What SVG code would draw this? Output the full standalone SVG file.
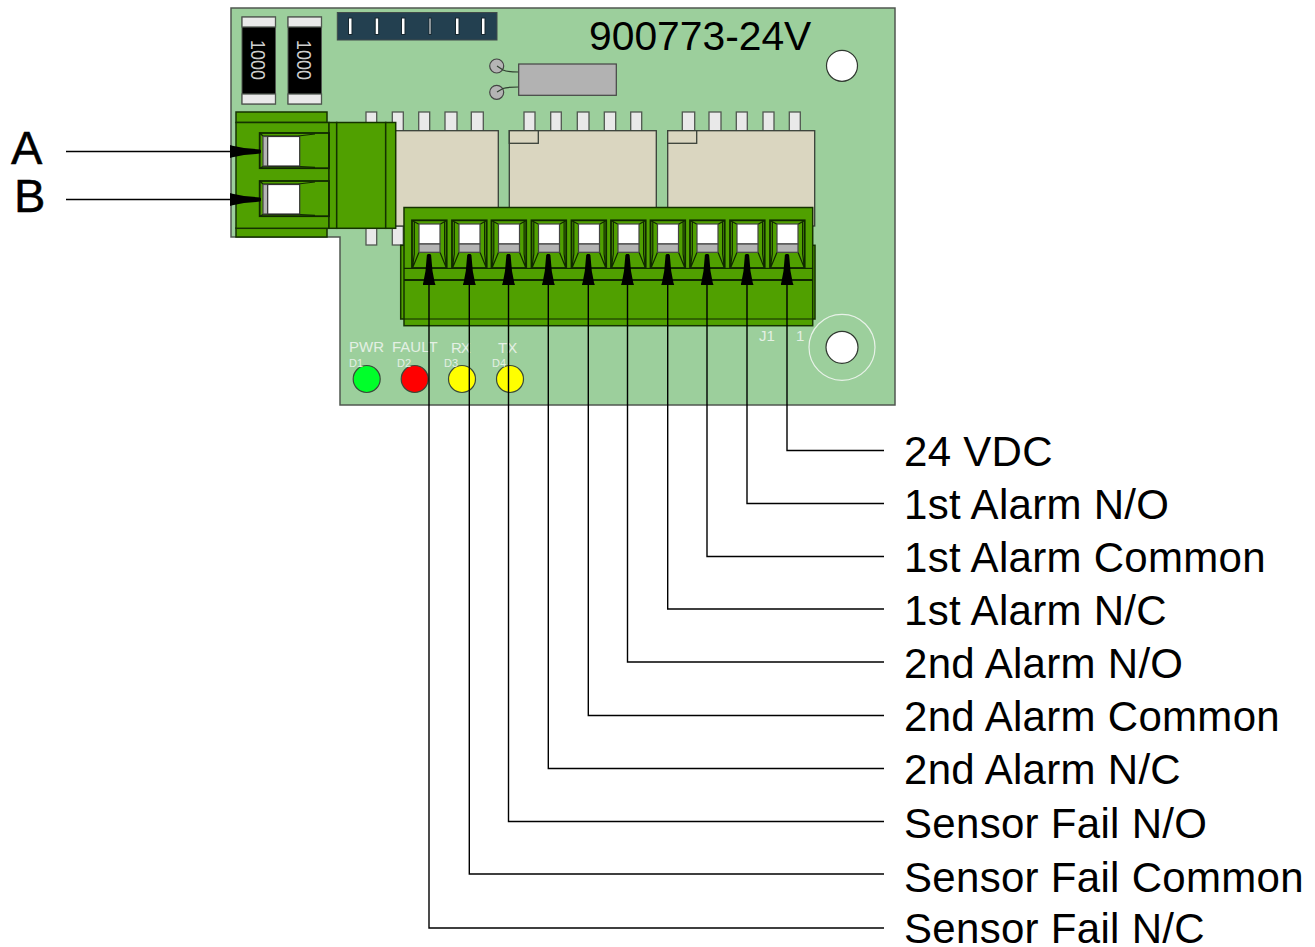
<svg xmlns="http://www.w3.org/2000/svg" width="1315" height="947" viewBox="0 0 1315 947">
<style>
text{font-family:"Liberation Sans",Arial,sans-serif}
.board{fill:#9ccf9c;stroke:#505850;stroke-width:1.5}
.grn{fill:#50a000;stroke:#143200;stroke-width:1.5}
.relay{fill:#dad6c0;stroke:#384038;stroke-width:1.3}
.pin{fill:#e9e9e9;stroke:#505850;stroke-width:1.3}
.gray{fill:#b4b4b4;stroke:#444;stroke-width:1.2}
.hole{fill:#fff;stroke:#303830;stroke-width:1.2}
.thin{fill:none;stroke:#102800;stroke-width:1.2}
.thick{fill:none;stroke:#102800;stroke-width:1.8}
.wire{fill:none;stroke:#000;stroke-width:1.4}
.lbl{font-size:42px;letter-spacing:.3px;fill:#000}
.silk{fill:#e4f0e4;font-size:15px}
.silks{fill:#e4f0e4;font-size:11px}
.rv{fill:#cfcfcf;font-size:18px}
.led{stroke:#3a4a3a;stroke-width:1.2}
.big{font-size:47px;fill:#000;stroke:#000;stroke-width:.5}
</style>
<defs>
<marker id="arrow" markerUnits="userSpaceOnUse" markerWidth="32" markerHeight="14" refX="31" refY="6.5" orient="auto">
<path d="M0,0 L2.5,.8 L14,3 L30,4.4 L31,5.4 V7.6 L30,8.6 L14,10 L2.5,12.2 L0,13Z" fill="#000"/>
</marker>
<g id="term">
<rect x="412" y="220.3" width="34.7" height="47.7" class="thick"/>
<path d="M414.3,221.5 V254 L412.5,267.5 M444.6,221.5 V254 L446.4,267.5 M412.5,220.8 L419,224.3 M446.2,220.8 L440,224.3 M419,252.3 L412.7,267.5 M440,252.3 L446.2,267.5" class="thin"/>
<rect x="419" y="224" width="21" height="20" class="hole" style="stroke:#444"/>
<rect x="419" y="244" width="21" height="8.3" class="gray"/>
</g>
<g id="lterm">
<rect x="259.7" y="0" width="69.3" height="35.2" class="thick"/>
<path d="M262,3 H298 L315,1 M262,33.6 H300 L315,34.4 M259.7,0 L263,3 M259.7,35.2 L263,33.6" class="thin"/>
<rect x="263" y="3.5" width="4.7" height="29.5" class="gray"/>
<rect x="267.7" y="3.5" width="32" height="29.5" class="hole" style="stroke:#333"/>
</g>
</defs>
<rect width="1315" height="947" fill="#fff"/>
<g id="board">
<path class="board" d="M231,8 H895 V405 H340 V237 H231 Z"/>
<text x="589" y="50" font-size="40.8" fill="#000">900773-24V</text>
<circle cx="842" cy="65.8" r="15.5" class="hole"/>
<circle cx="842" cy="347.3" r="33" fill="none" stroke="#e8f2e8" stroke-width="1.2"/>
<circle cx="842" cy="347.3" r="16" class="hole"/>
</g>
<g id="resistor-1">
<rect x="242" y="17" width="33.5" height="87" fill="#000" stroke="#505850"/>
<rect x="242" y="17" width="33.5" height="10" class="pin"/>
<rect x="242" y="94" width="33.5" height="10" class="pin"/>
<text class="rv" transform="translate(251,40) rotate(90) scale(1,1.12)">1000</text>
</g>
<g id="resistor-2">
<rect x="288" y="17" width="33.5" height="87" fill="#000" stroke="#505850"/>
<rect x="288" y="17" width="33.5" height="10" class="pin"/>
<rect x="288" y="94" width="33.5" height="10" class="pin"/>
<text class="rv" transform="translate(297,40) rotate(90) scale(1,1.12)">1000</text>
</g>
<g id="header">
<rect x="337.3" y="12.5" width="159.7" height="27.5" fill="#234050" stroke="#404a4a"/>
<g fill="#fff" stroke="#182830">
<rect x="348.5" y="18" width="3.5" height="16.5"/><rect x="375.2" y="18" width="3.5" height="16.5"/><rect x="401.5" y="18" width="3.5" height="16.5"/><rect x="429" y="18" width="2" height="16.5"/><rect x="455.5" y="18" width="3.5" height="16.5"/><rect x="481.5" y="18" width="3.5" height="16.5"/>
</g>
</g>
<g id="crystal">
<circle cx="496.7" cy="66" r="7" class="gray"/>
<circle cx="496.7" cy="92.3" r="7" class="gray"/>
<path d="M497,66 L503,70 Q507,72 518.7,72 M497,92 L503,88.5 Q507,87 518.7,87" fill="none" stroke="#304030" stroke-width="1.2"/>
<rect x="518.7" y="64" width="97.6" height="31.3" class="gray" style="fill:#b2b2b2"/>
</g>
<g id="relay-1">
<rect x="366" y="112" width="10.7" height="20" class="pin"/><rect x="392.3" y="112" width="11" height="20" class="pin"/><rect x="418.7" y="112" width="11" height="20" class="pin"/><rect x="445" y="112" width="12" height="20" class="pin"/><rect x="471.3" y="112" width="12" height="20" class="pin"/>
<rect x="366" y="226" width="10.7" height="19" class="pin"/><rect x="392.3" y="226" width="11" height="19" class="pin"/>
<rect x="380" y="130.7" width="118.3" height="95.3" class="relay"/>
</g>
<g id="relay-2">
<rect x="524" y="112" width="11" height="20" class="pin"/><rect x="550.7" y="112" width="10.6" height="20" class="pin"/><rect x="577.3" y="112" width="11.7" height="20" class="pin"/><rect x="604.3" y="112" width="11.4" height="20" class="pin"/><rect x="630.7" y="112" width="11" height="20" class="pin"/>
<rect x="509.3" y="130.7" width="147" height="95.3" class="relay"/>
<rect x="509.3" y="130.7" width="29" height="12.6" class="relay"/>
</g>
<g id="relay-3">
<rect x="682.3" y="112" width="12.4" height="20" class="pin"/><rect x="709" y="112" width="12" height="20" class="pin"/><rect x="736.3" y="112" width="11" height="20" class="pin"/><rect x="763" y="112" width="11" height="20" class="pin"/><rect x="789.3" y="112" width="11" height="20" class="pin"/>
<rect x="667.7" y="130.7" width="147" height="95.3" class="relay"/>
<rect x="667.7" y="130.7" width="29" height="12.6" class="relay"/>
</g>
<g id="leds">
<circle cx="366.7" cy="379" r="13.5" fill="#00ff2a" class="led"/>
<circle cx="414.7" cy="379" r="13.5" fill="#ff0000" class="led"/>
<circle cx="462" cy="379" r="13.5" fill="#ffff00" class="led"/>
<circle cx="510" cy="379" r="13.5" fill="#ffff00" class="led"/>
<text class="silk" x="349" y="352">PWR</text>
<text class="silk" x="392" y="352">FAULT</text>
<text class="silk" x="451" y="353" letter-spacing="-1">RX</text>
<text class="silk" x="498" y="353">TX</text>
<text class="silks" x="349" y="367">D1</text>
<text class="silks" x="397" y="367">D2</text>
<text class="silks" x="444" y="367">D3</text>
<text class="silks" x="492" y="367">D4</text>
<text class="silk" x="759" y="341">J1</text>
<text class="silk" x="796" y="341">1</text>
</g>
<g id="connector-left">
<rect x="236" y="112" width="91" height="10.5" class="grn"/>
<rect x="236" y="228" width="91" height="9" class="grn"/>
<rect x="236" y="122.5" width="93" height="105.8" class="grn"/>
<rect x="329" y="122.5" width="7.7" height="105.8" class="grn"/>
<rect x="336.7" y="122.5" width="49" height="105.8" class="grn"/>
<rect x="385.7" y="122.5" width="10" height="105.8" class="grn"/>
<use href="#lterm" y="133"/>
<use href="#lterm" y="181"/>
</g>
<g id="terminal-block">
<rect x="400.7" y="245.3" width="414.3" height="73.7" class="grn"/>
<rect x="404" y="207.5" width="408.7" height="118.2" class="grn"/>
<path d="M404,268.3 H812.7 M404,319 H812.7" class="thin"/>
<path d="M404,280 H812.7" class="thick"/>
<use href="#term"/>
<use href="#term" x="40"/>
<use href="#term" x="79.5"/>
<use href="#term" x="119.5"/>
<use href="#term" x="159.5"/>
<use href="#term" x="199"/>
<use href="#term" x="238.5"/>
<use href="#term" x="278"/>
<use href="#term" x="318"/>
<use href="#term" x="358"/>
</g>
<g id="connectors">
<path class="wire" marker-end="url(#arrow)" d="M66,151.5 H261"/>
<path class="wire" marker-end="url(#arrow)" d="M66,199.5 H261"/>
<path class="wire" marker-end="url(#arrow)" d="M884,450.5 H787 V254"/>
<path class="wire" marker-end="url(#arrow)" d="M884,503.5 H747 V254"/>
<path class="wire" marker-end="url(#arrow)" d="M884,556.5 H707 V254"/>
<path class="wire" marker-end="url(#arrow)" d="M884,609 H667.7 V254"/>
<path class="wire" marker-end="url(#arrow)" d="M884,662 H627.5 V254"/>
<path class="wire" marker-end="url(#arrow)" d="M884,715.5 H588.3 V254"/>
<path class="wire" marker-end="url(#arrow)" d="M884,768.5 H548.3 V254"/>
<path class="wire" marker-end="url(#arrow)" d="M884,821.5 H508.5 V254"/>
<path class="wire" marker-end="url(#arrow)" d="M884,874 H469.3 V254"/>
<path class="wire" marker-end="url(#arrow)" d="M884,928 H429 V254"/>
</g>
<g id="labels">
<text class="big" x="11" y="164">A</text>
<text class="big" x="14" y="212">B</text>
<text class="lbl" x="904" y="466">24 VDC</text>
<text class="lbl" x="904" y="519">1st Alarm N/O</text>
<text class="lbl" x="904" y="572">1st Alarm Common</text>
<text class="lbl" x="904" y="625">1st Alarm N/C</text>
<text class="lbl" x="904" y="678">2nd Alarm N/O</text>
<text class="lbl" x="904" y="731">2nd Alarm Common</text>
<text class="lbl" x="904" y="784">2nd Alarm N/C</text>
<text class="lbl" x="904" y="838">Sensor Fail N/O</text>
<text class="lbl" x="904" y="891.5">Sensor Fail Common</text>
<text class="lbl" x="904" y="943">Sensor Fail N/C</text>
</g>
</svg>
